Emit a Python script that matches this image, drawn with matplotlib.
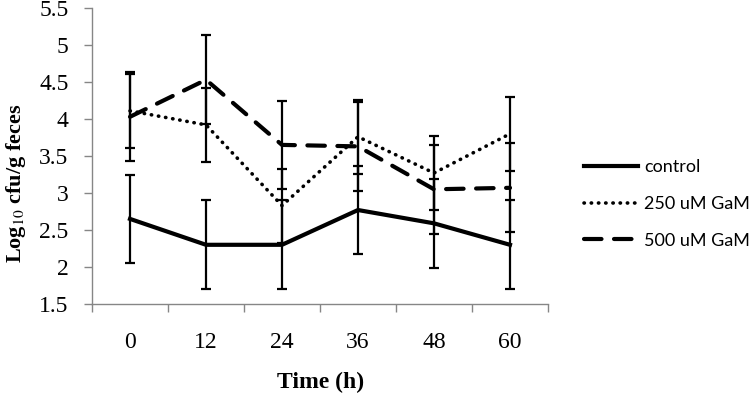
import matplotlib
matplotlib.use("Agg")
import matplotlib.pyplot as plt
from matplotlib.ticker import FixedLocator, NullFormatter

#########################
# DATA
#########################

times = ["0", "12", "24", "36", "48", "60"]
control = [2.65, 2.30, 2.30, 2.77, 2.59, 2.30]
gam250 = [4.11, 3.92, 2.83, 3.76, 3.27, 3.80]
gam500 = [4.03, 4.53, 3.65, 3.63, 3.05, 3.07]
err_control = [0.6, 0.6, 0.6, 0.6, 0.6, 0.6]
err_250 = [0.5, 0.5, 0.5, 0.5, 0.5, 0.5]
err_500 = [0.6, 0.6, 0.6, 0.6, 0.6, 0.6]
labels = ["control", "250 uM GaM", "500 uM GaM"]
yticks = [1.5, 2, 2.5, 3, 3.5, 4, 4.5, 5, 5.5]
ytick_labels = ["1.5", "2", "2.5", "3", "3.5", "4", "4.5", "5", "5.5"]

#########################
# PLOT
#########################

plt.rcParams["font.family"] = ["Liberation Serif", "DejaVu Serif"]
plt.rcParams["mathtext.fontset"] = "stix"

fig = plt.figure(figsize=(7.53, 3.97), dpi=100)
ax = fig.add_axes([92 / 753, 1 - 304 / 397, 456 / 753, 296 / 397])

x = list(range(len(times)))
GRAY = "#868686"

series = [
    (control, err_control, dict(linestyle="-", linewidth=3.0)),
    (gam250, err_250, dict(linestyle=(0, (0.1, 1.9)), linewidth=2.6,
                           dash_capstyle="round")),
    (gam500, err_500, dict(linestyle=(0, (4.2, 3.0)), linewidth=3.0,
                           dash_capstyle="round")),
]

handles = []
for (vals, err, style), lab in zip(series, labels):
    ax.errorbar(x, vals, yerr=err, fmt="none", ecolor="black",
                elinewidth=1.6, capsize=3.4, capthick=1.6, zorder=2)
    line, = ax.plot(x, vals, color="black", label=lab, zorder=3, **style)
    handles.append(line)

ax.set_xlim(-0.5, 5.5)
ax.set_ylim(1.5, 5.5)
ax.set_yticks(yticks)
ax.set_yticklabels(ytick_labels)

ax.set_xticks(x)
ax.set_xticklabels(times)
ax.xaxis.set_minor_locator(FixedLocator([i - 0.5 for i in range(len(times) + 1)]))
ax.xaxis.set_minor_formatter(NullFormatter())
ax.tick_params(axis="x", which="major", length=0, pad=20, labelsize=17)
ax.tick_params(axis="x", which="minor", length=6, color=GRAY, width=1)
ax.tick_params(axis="y", length=6, color=GRAY, width=1, pad=11, labelsize=17)

for side in ["top", "right"]:
    ax.spines[side].set_visible(False)
for side in ["left", "bottom"]:
    ax.spines[side].set_color(GRAY)
    ax.spines[side].set_linewidth(1)

fig.text(321 / 753, 1 - 382 / 397, "Time (h)", ha="center", va="center",
         fontsize=17, fontweight="bold")
fig.text(16 / 753, 1 - 183 / 397, r"Log$_{10}$ cfu/g feces", ha="center",
         va="center", rotation=90, fontsize=16, fontweight="bold")

fig.legend(handles=handles, labels=labels, loc="center left",
           bbox_to_anchor=(568 / 753, 1 - 204 / 397), frameon=False,
           prop={"family": "Lato", "size": 13}, handlelength=3.0,
           handletextpad=0.3, labelspacing=1.15)

fig.savefig("out.png", dpi=100)
